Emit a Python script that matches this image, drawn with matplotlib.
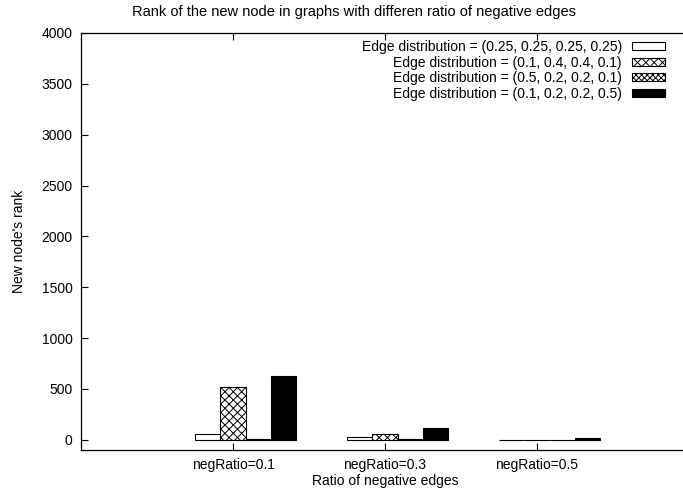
import matplotlib
matplotlib.use("Agg")
import matplotlib.pyplot as plt
import numpy as np

plt.rcParams['font.family'] = ['Liberation Sans', 'DejaVu Sans']
plt.rcParams['hatch.linewidth'] = 0.7

categories = ["negRatio=0.1", "negRatio=0.3", "negRatio=0.5"]
series_labels = [
    "Edge distribution = (0.25, 0.25, 0.25, 0.25)",
    "Edge distribution = (0.1, 0.4, 0.4, 0.1)",
    "Edge distribution = (0.5, 0.2, 0.2, 0.1)",
    "Edge distribution = (0.1, 0.2, 0.2, 0.5)",
]
values_s1 = [58, 28, 3]
values_s2 = [515, 62, 3]
values_s3 = [6, 6, 3]
values_s4 = [625, 112, 15]
yticks = [0, 500, 1000, 1500, 2000, 2500, 3000, 3500, 4000]

series = [values_s1, values_s2, values_s3, values_s4]
faces = ["white", "white", "white", "black"]
hatches = [None, "xxxx", "xxxxxx", None]

W, H = 683, 498
fig = plt.figure(figsize=(W / 100, H / 100), dpi=100)
ax = fig.add_axes([81 / W, 1 - 450 / H, (689 - 81) / W, (450 - 33) / H])

x = np.arange(len(categories))
w = 1 / 6
for j, (vals, fc, h, lab) in enumerate(zip(series, faces, hatches, series_labels)):
    ax.bar(x + (j - 1) * w, vals, width=w, color=fc, edgecolor="black",
           linewidth=0.8, hatch=h, label=lab)

ax.set_xlim(-1, 3)
ax.set_ylim(-100, 4000)
ax.set_xticks(x)
ax.set_xticklabels(categories, fontsize=10)
ax.set_yticks(yticks)
ax.set_yticklabels([str(t) for t in yticks], fontsize=10)
ax.tick_params(direction="in", length=5, width=0.8, top=True, right=False, pad=6)
for s in ax.spines.values():
    s.set_linewidth(0.9)

ax.set_xlabel("Ratio of negative edges", fontsize=10, labelpad=1)
ax.set_ylabel("New node's rank", fontsize=10, labelpad=11)
fig.text(0.5 * (134 + 575) / W, 1 - 12 / H,
         "Rank of the new node in graphs with differen ratio of negative edges",
         ha="center", va="center", fontsize=10.5)

leg = ax.legend(loc="upper right", bbox_to_anchor=(665 / W, 1 - 40 / H),
                bbox_transform=fig.transFigure, frameon=False, markerfirst=False,
                fontsize=10, handlelength=2.4, handleheight=0.5,
                handletextpad=0.7, labelspacing=0.12, borderpad=0, borderaxespad=0)
for t in leg.get_texts():
    t.set_ha("right")

fig.savefig("out.png", dpi=100)
